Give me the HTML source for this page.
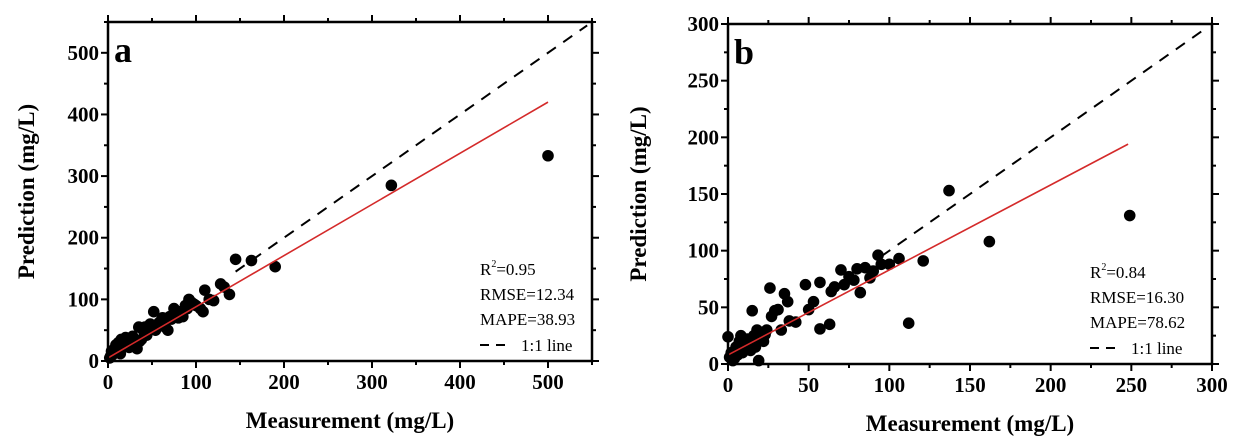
<!DOCTYPE html>
<html><head><meta charset="utf-8"><style>
html,body{margin:0;padding:0;background:#fff;}
svg{display:block;font-family:"Liberation Serif",serif;}
</style></head><body>
<svg id="s" width="1236" height="442" viewBox="0 0 1236 442" xmlns="http://www.w3.org/2000/svg"></svg>
<script>
const S=document.getElementById('s');let h='';
function panel(o){
 const {x0,y0,x1,y1,xmax,ymax,step,minor,lbl,pts,red,dashFrom,leg,tx}=o;
 const X=v=>x0+(x1-x0)*v/xmax, Y=v=>y0-(y0-y1)*v/ymax;
 for(let v=0;v<=xmax+1e-6;v+=minor){const major=Math.abs(v/step-Math.round(v/step))<1e-6;const L=major?7:4;
  h+=`<line x1="${X(v)}" y1="${y0}" x2="${X(v)}" y2="${y0+L}" stroke="#000" stroke-width="2"/>`;
  h+=`<line x1="${X(v)}" y1="${y1}" x2="${X(v)}" y2="${y1-L}" stroke="#000" stroke-width="2"/>`;
  if(major)h+=`<text x="${X(v)}" y="${y0+28}" font-size="21" font-weight="bold" text-anchor="middle">${v}</text>`;}
 for(let v=0;v<=ymax+1e-6;v+=minor){const major=Math.abs(v/step-Math.round(v/step))<1e-6;const L=major?7:4;
  h+=`<line x1="${x0}" y1="${Y(v)}" x2="${x0-L}" y2="${Y(v)}" stroke="#000" stroke-width="2"/>`;
  h+=`<line x1="${x1}" y1="${Y(v)}" x2="${x1+L}" y2="${Y(v)}" stroke="#000" stroke-width="2"/>`;
  if(major)h+=`<text x="${x0-9}" y="${Y(v)+7}" font-size="21" font-weight="bold" text-anchor="end">${v}</text>`;}
 const de=Math.min(xmax,ymax)*0.99;
 h+=`<line x1="${X(dashFrom)}" y1="${Y(dashFrom)}" x2="${X(de)}" y2="${Y(de)}" stroke="#000" stroke-width="2" stroke-dasharray="11,9"/>`;
 for(const p of pts)h+=`<circle cx="${X(p[0])}" cy="${Y(p[1])}" r="5.8" fill="#000"/>`;
 h+=`<line x1="${X(0)}" y1="${Y(red[0])}" x2="${X(red[1])}" y2="${Y(red[2])}" stroke="#d42a2a" stroke-width="1.6"/>`;
 h+=`<rect x="${x0}" y="${y1}" width="${x1-x0}" height="${y0-y1}" fill="none" stroke="#000" stroke-width="2.5"/>`;
 h+=`<text x="${x0+6}" y="${y1+40}" font-size="36" font-weight="bold">${lbl}</text>`;
 const lx=leg[0],ly=leg[1];
 h+=`<text x="${lx}" y="${ly}" font-size="17">R<tspan font-size="10" dy="-8">2</tspan><tspan dy="8">=${leg[2]}</tspan></text>`;
 h+=`<text x="${lx}" y="${ly+25}" font-size="17">RMSE=${leg[3]}</text>`;
 h+=`<text x="${lx}" y="${ly+50}" font-size="17">MAPE=${leg[4]}</text>`;
 h+=`<line x1="${lx}" y1="${ly+70}" x2="${lx+32}" y2="${ly+70}" stroke="#000" stroke-width="2" stroke-dasharray="9,7"/>`;
 h+=`<text x="${lx+41}" y="${ly+76}" font-size="17">1:1 line</text>`;
 h+=`<text x="${(x0+x1)/2}" y="${y0+67}" font-size="23" font-weight="bold" text-anchor="middle">Measurement (mg/L)</text>`;
 h+=`<text transform="translate(${tx},${(y0+y1)/2}) rotate(-90)" font-size="23" font-weight="bold" text-anchor="middle">Prediction (mg/L)</text>`;
}
panel({x0:108,y0:361,x1:592,y1:22,xmax:550,ymax:550,step:100,minor:50,lbl:'a',dashFrom:145,red:[5,500,420],tx:34,
 leg:[480,275,'0.95','12.34','38.93'],
 pts:[[2,5],[3,8],[5,10],[4,16],[6,18],[8,20],[9,26],[10,15],[12,30],[14,12],[15,35],[16,22],[18,25],[20,38],[22,30],[24,22],[25,35],[27,28],[28,40],[30,25],[32,30],[33,20],[35,55],[36,32],[38,35],[40,50],[42,55],[44,42],[45,48],[48,60],[50,55],[52,80],[54,50],[55,58],[58,62],[60,65],[62,70],[64,60],[65,55],[68,50],[70,72],[72,68],[75,85],[78,75],[80,70],[82,80],[85,72],[88,90],[90,85],[92,100],[95,95],[98,92],[100,90],[105,85],[108,80],[110,115],[115,100],[120,98],[128,125],[132,120],[138,108],[145,165],[163,163],[190,153],[322,285],[500,333]]});
panel({x0:728,y0:364,x1:1212,y1:24,xmax:300,ymax:300,step:50,minor:25,lbl:'b',dashFrom:95,red:[8,248,194],tx:646,
 leg:[1090,278,'0.84','16.30','78.62'],
 pts:[[0,24],[1,6],[2,10],[3,3],[4,5],[5,15],[6,8],[7,20],[8,25],[9,10],[10,18],[11,14],[12,22],[13,17],[14,12],[15,47],[15,20],[16,25],[17,15],[18,30],[19,3],[20,28],[21,22],[22,20],[23,26],[24,30],[26,67],[27,42],[29,47],[31,48],[33,30],[35,62],[37,55],[38,38],[42,37],[48,70],[50,48],[53,55],[57,72],[57,31],[63,35],[64,64],[66,68],[70,83],[72,70],[75,77],[78,74],[80,84],[82,63],[85,85],[88,76],[90,82],[93,96],[95,88],[100,88],[106,93],[112,36],[121,91],[137,153],[162,108],[249,131]]});
S.innerHTML=h;
</script>
</body></html>
